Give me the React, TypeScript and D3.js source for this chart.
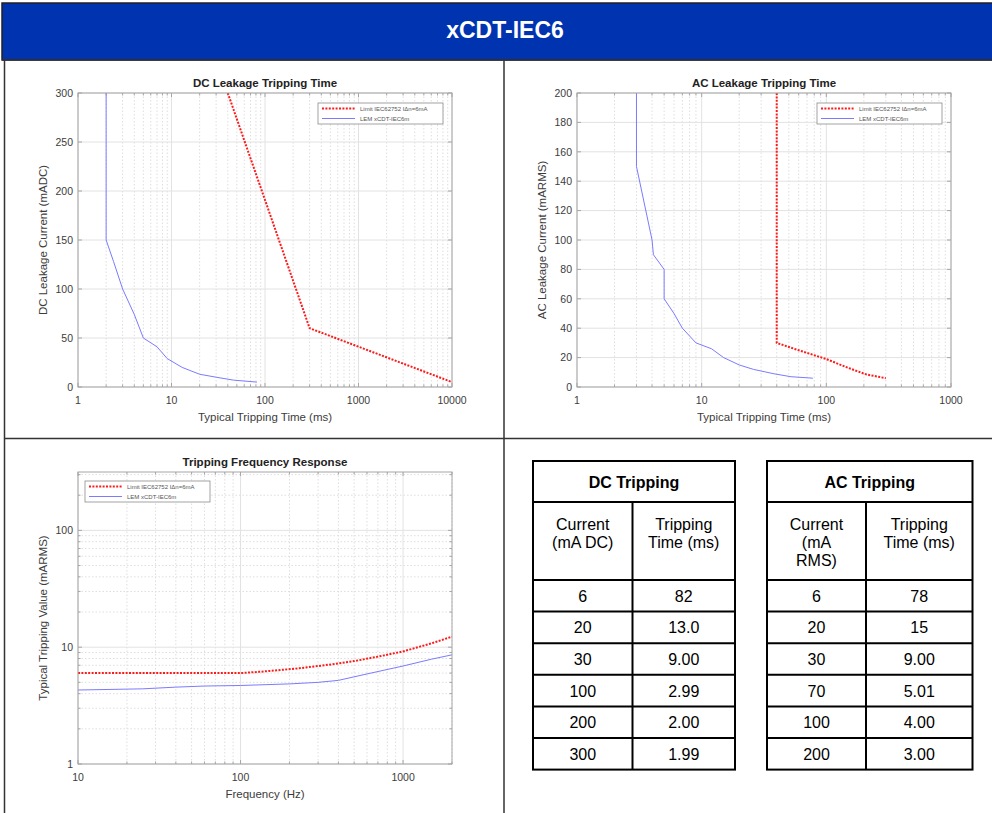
import * as d3 from "d3";

// ---- data ----
const dcLimitTime = [40, 300, 10000];
const dcLimitCurrent = [300, 60, 5];
const dcLemTime = [2, 2, 2.4, 3, 4, 5, 7, 9, 13, 20, 30, 46, 82];
const dcLemCurrent = [300, 150, 128, 100, 74, 50, 41, 29, 20, 13, 10, 7, 5];

const acLimitTime = [40, 40, 60, 100, 150, 210, 300];
const acLimitCurrent = [200, 30, 25, 19, 13, 8.5, 6];
const acLemTime = [3, 3, 4, 4.1, 5, 5, 6, 7, 9, 12, 15, 20, 26, 38, 52, 78];
const acLemCurrent = [200, 150, 100, 90, 80, 60, 50, 40, 30, 26, 20, 15, 12, 9, 7, 6];

const freqLimitHz = [10, 50, 100, 130, 170, 230, 300, 400, 500, 700, 1000, 1500, 2000];
const freqLimit = [6, 6, 6, 6.15, 6.35, 6.6, 6.9, 7.25, 7.6, 8.3, 9.2, 10.8, 12.3];
const freqLemHz = [10, 25, 40, 60, 100, 200, 300, 400, 600, 1000, 1500, 2000];
const freqLem = [4.3, 4.4, 4.55, 4.65, 4.7, 4.85, 5.0, 5.2, 5.9, 6.9, 7.9, 8.6];

const legendLabels = ["Limit IEC62752 I\u0394n=6mA", "LEM xCDT-IEC6m"];

const dcHeader = ["Current\n(mA DC)", "Tripping\nTime (ms)"];
const dcCurrent = ["6", "20", "30", "100", "200", "300"];
const dcTime = ["82", "13.0", "9.00", "2.99", "2.00", "1.99"];
const acHeader = ["Current\n(mA\nRMS)", "Tripping\nTime (ms)"];
const acCurrent = ["6", "20", "30", "70", "100", "200"];
const acTime = ["78", "15", "9.00", "5.01", "4.00", "3.00"];

const FONT = "'Liberation Sans', Arial, Helvetica, sans-serif";
const RED = "#ff1a1a";
const BLUE = "#7b7bff";
const BOX = "#a6a6a6";
const LABEL = "#3c3c3c";

const isDecade = (v) => Math.abs(Math.log10(v) - Math.round(Math.log10(v))) < 1e-9;

function Chart({ left, top, width, height, title, xLabel, yLabel, xDomain, yDomain, yLog, yTicks, xTickFmt, series, legend }) {
	const x = d3.scaleLog().domain(xDomain).range([left, left + width]);
	const y = yLog
		? d3.scaleLog().domain(yDomain).range([top + height, top])
		: d3.scaleLinear().domain(yDomain).range([top + height, top]);

	const xAll = x.ticks();
	const xMajor = xAll.filter(isDecade);
	const xMinor = xAll.filter((v) => !isDecade(v));
	const yAll = yLog ? y.ticks() : y.ticks(yTicks);
	const yMajor = yLog ? yAll.filter(isDecade) : yAll;
	const yMinor = yLog ? yAll.filter((v) => !isDecade(v)) : [];

	const line = d3
		.line()
		.x((d) => x(d[0]))
		.y((d) => y(d[1]));

	const clipId = `clip-${left}-${top}`;
	const bottom = top + height;
	const right = left + width;

	return (
		<g fontFamily={FONT}>
			<defs>
				<clipPath id={clipId}>
					<rect x={left} y={top} width={width} height={height} />
				</clipPath>
			</defs>
			<rect x={left} y={top} width={width} height={height} fill="#fff" />
			{/* minor grid */}
			{xMinor.map((v) => (
				<line key={"xm" + v} x1={x(v)} x2={x(v)} y1={top} y2={bottom} stroke="#dedede" strokeDasharray="1.5 2" />
			))}
			{yMinor.map((v) => (
				<line key={"ym" + v} x1={left} x2={right} y1={y(v)} y2={y(v)} stroke="#dedede" strokeDasharray="1.5 2" />
			))}
			{/* major grid */}
			{xMajor.map((v) => (
				<line key={"xM" + v} x1={x(v)} x2={x(v)} y1={top} y2={bottom} stroke="#e2e2e2" />
			))}
			{yMajor.map((v) => (
				<line key={"yM" + v} x1={left} x2={right} y1={y(v)} y2={y(v)} stroke="#e2e2e2" />
			))}
			{/* ticks inside the box */}
			{xAll.map((v) => {
				const l = isDecade(v) ? 4 : 2.5;
				return (
					<g key={"xt" + v} stroke={BOX}>
						<line x1={x(v)} x2={x(v)} y1={bottom} y2={bottom - l} />
						<line x1={x(v)} x2={x(v)} y1={top} y2={top + l} />
					</g>
				);
			})}
			{yAll.map((v) => {
				const l = yLog && !isDecade(v) ? 2.5 : 4;
				return (
					<g key={"yt" + v} stroke={BOX}>
						<line x1={left} x2={left + l} y1={y(v)} y2={y(v)} />
						<line x1={right} x2={right - l} y1={y(v)} y2={y(v)} />
					</g>
				);
			})}
			<g clipPath={`url(#${clipId})`}>
				{series.map((s, i) => (
					<path
						key={i}
						d={line(s.xs.map((v, j) => [v, s.ys[j]]))}
						fill="none"
						stroke={s.color}
						strokeWidth={s.dotted ? 2 : 1}
						strokeDasharray={s.dotted ? "2 1.4" : null}
					/>
				))}
			</g>
			<rect x={left} y={top} width={width} height={height} fill="none" stroke={BOX} />
			{/* tick labels */}
			{xMajor.map((v) => (
				<text key={"xl" + v} x={x(v)} y={bottom + 17} textAnchor="middle" fontSize={10.5} fill={LABEL}>
					{xTickFmt(v)}
				</text>
			))}
			{yMajor.map((v) => (
				<text key={"yl" + v} x={left - 5} y={y(v) + 3.8} textAnchor="end" fontSize={10.5} fill={LABEL}>
					{v}
				</text>
			))}
			<text x={left + width / 2} y={top - 6} textAnchor="middle" fontSize={11.5} fontWeight="bold" fill="#222">
				{title}
			</text>
			<text x={left + width / 2} y={bottom + 34} textAnchor="middle" fontSize={11.5} fill={LABEL}>
				{xLabel}
			</text>
			<text
				transform={`translate(${left - 31},${top + height / 2}) rotate(-90)`}
				textAnchor="middle"
				fontSize={11.5}
				fill={LABEL}
			>
				{yLabel}
			</text>
			{/* legend */}
			<g transform={`translate(${legend.x},${legend.y})`}>
				<rect x={0} y={0} width={125} height={21} fill="#fff" stroke="#8c8c8c" strokeWidth={0.8} />
				{series.map((s, i) => (
					<g key={i} transform={`translate(0,${5.5 + i * 10})`}>
						<line
							x1={4}
							x2={37}
							y1={0}
							y2={0}
							stroke={s.color}
							strokeWidth={s.dotted ? 2 : 1}
							strokeDasharray={s.dotted ? "2 1.4" : null}
						/>
						<text x={42} y={2.2} fontSize={6} fill="#555">
							{legendLabels[i]}
						</text>
					</g>
				))}
			</g>
		</g>
	);
}

function Table({ x, colW1, colW2, title, header, c1, c2 }) {
	const top = 461;
	const titleH = 41;
	const headH = 78;
	const rowH = 31.6;
	const w = colW1 + colW2;
	const bodyTop = top + titleH + headH;
	const bottom = bodyTop + rowH * c1.length;
	const cx1 = x + colW1 / 2;
	const cx2 = x + colW1 + colW2 / 2;
	const centers = [cx1, cx2];
	return (
		<g fontFamily={FONT} fill="#000">
			<rect x={x} y={top} width={w} height={bottom - top} fill="#fff" stroke="#000" strokeWidth={2} />
			<line x1={x} x2={x + w} y1={top + titleH} y2={top + titleH} stroke="#000" strokeWidth={2} />
			<line x1={x + colW1} x2={x + colW1} y1={top + titleH} y2={bottom} stroke="#000" strokeWidth={2} />
			{c1.map((_, i) => (
				<line key={i} x1={x} x2={x + w} y1={bodyTop + i * rowH} y2={bodyTop + i * rowH} stroke="#000" strokeWidth={2} />
			))}
			<text x={x + w / 2} y={top + titleH / 2 + 6} textAnchor="middle" fontSize={16} fontWeight="bold">
				{title}
			</text>
			{header.map((h, k) => (
				<text key={k} x={centers[k]} y={top + titleH + 28} textAnchor="middle" fontSize={16}>
					{h.split("\n").map((t, j) => (
						<tspan key={j} x={centers[k]} dy={j === 0 ? 0 : 18}>
							{t}
						</tspan>
					))}
				</text>
			))}
			{c1.map((v, i) => (
				<g key={i}>
					<text x={cx1} y={bodyTop + i * rowH + rowH / 2 + 6} textAnchor="middle" fontSize={16}>
						{v}
					</text>
					<text x={cx2} y={bodyTop + i * rowH + rowH / 2 + 6} textAnchor="middle" fontSize={16}>
						{c2[i]}
					</text>
				</g>
			))}
		</g>
	);
}

export default function App() {
	const fmt = (v) => String(v);
	return (
		<svg width={992} height={813} style={{ position: "absolute", left: 0, top: 0, background: "#fff" }}>
			<rect x={0} y={0} width={992} height={813} fill="#fff" />
			<rect x={2} y={3} width={992} height={57} fill="#0033b0" stroke="#222" strokeWidth={1.5} />
			<text x={505} y={38} textAnchor="middle" fontFamily={FONT} fontSize={23} fontWeight="bold" fill="#fff">
				xCDT-IEC6
			</text>
			<g stroke="#333" strokeWidth={1.5}>
				<line x1={2} x2={992} y1={60} y2={60} />
				<line x1={4.5} x2={4.5} y1={60} y2={813} />
				<line x1={504} x2={504} y1={60} y2={813} />
				<line x1={4} x2={992} y1={438.5} y2={438.5} />
			</g>
			<Chart
				left={78}
				top={93}
				width={374}
				height={294}
				title="DC Leakage Tripping Time"
				xLabel="Typical Tripping Time (ms)"
				yLabel="DC Leakage Current (mADC)"
				xDomain={[1, 10000]}
				yDomain={[0, 300]}
				yTicks={6}
				xTickFmt={fmt}
				legend={{ x: 318, y: 103 }}
				series={[
					{ xs: dcLimitTime, ys: dcLimitCurrent, color: RED, dotted: true },
					{ xs: dcLemTime, ys: dcLemCurrent, color: BLUE },
				]}
			/>
			<Chart
				left={577}
				top={93}
				width={374}
				height={294}
				title="AC Leakage Tripping Time"
				xLabel="Typical Tripping Time (ms)"
				yLabel="AC Leakage Current (mARMS)"
				xDomain={[1, 1000]}
				yDomain={[0, 200]}
				yTicks={10}
				xTickFmt={fmt}
				legend={{ x: 817, y: 103 }}
				series={[
					{ xs: acLimitTime, ys: acLimitCurrent, color: RED, dotted: true },
					{ xs: acLemTime, ys: acLemCurrent, color: BLUE },
				]}
			/>
			<Chart
				left={78}
				top={472}
				width={374}
				height={292}
				title="Tripping Frequency Response"
				xLabel="Frequency (Hz)"
				yLabel="Typical Tripping Value (mARMS)"
				xDomain={[10, 2000]}
				yDomain={[1, 316]}
				yLog
				xTickFmt={fmt}
				legend={{ x: 85, y: 481 }}
				series={[
					{ xs: freqLimitHz, ys: freqLimit, color: RED, dotted: true },
					{ xs: freqLemHz, ys: freqLem, color: BLUE },
				]}
			/>
			<Table x={533} colW1={99.5} colW2={102.5} title="DC Tripping" header={dcHeader} c1={dcCurrent} c2={dcTime} />
			<Table x={767} colW1={99} colW2={106.5} title="AC Tripping" header={acHeader} c1={acCurrent} c2={acTime} />
		</svg>
	);
}
